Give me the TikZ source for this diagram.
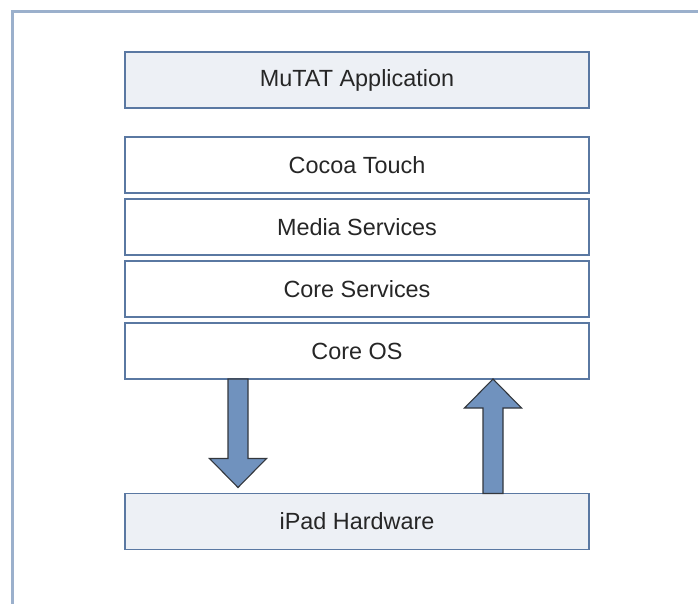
\documentclass[tikz,border=0pt]{standalone}
\usepackage{fontspec}
\setmainfont{Liberation Sans}
\usepackage{xcolor}
\usepackage{tikz}
\usetikzlibrary{calc,positioning}
\definecolor{framec}{HTML}{9BB0CC}
\definecolor{boxline}{HTML}{5A78A2}
\definecolor{boxfill}{HTML}{EDF0F5}
\definecolor{arrfill}{HTML}{7092BE}
\definecolor{arrline}{HTML}{33373D}
\definecolor{txt}{HTML}{262626}
\newcommand{\blockarrow}[3]{\filldraw[fill=arrfill,draw=arrline,line width=1.1pt,line join=miter] ($(#1)+(-10,0)$) -- ($(#2)+(-10,-29*#3)$) -- ($(#2)+(-28.5,-29*#3)$) -- (#2) -- ($(#2)+(28.5,-29*#3)$) -- ($(#2)+(10,-29*#3)$) -- ($(#1)+(10,0)$) -- cycle;}

\begin{document}
\begin{tikzpicture}[x=1pt,y=-1pt,
  layer/.style={draw=boxline,line width=1.3pt,fill=white,minimum width=464pt,minimum height=56pt,inner sep=0pt,outer sep=0pt,text=txt,font=\fontsize{23.4}{27}\selectfont},
  shaded/.style={layer,fill=boxfill},
  node distance=6pt]
\useasboundingbox (0,0) rectangle (698,604);
\draw[framec,line width=3pt] (12,620) -- (12,12) -- (720,12);
\node[shaded] (app) at (357,80) {MuTAT Application};
\node[layer] (cocoa) at (357,165) {Cocoa Touch};
\node[layer,below=of cocoa] (media) {Media Services};
\node[layer,below=of media] (coresrv) {Core Services};
\node[layer,below=of coresrv] (coreos) {Core OS};
\node[shaded] (hw) at (357,521.5) {iPad Hardware};
% arrows between Core OS and the hardware
\coordinate (dntail) at ($(coreos.south)+(-119,0)$);
\coordinate (dntip) at ($(hw.north)+(-119,-6)$);
\coordinate (uptail) at ($(hw.north)+(136,0)$);
\coordinate (uptip) at ($(coreos.south)+(136,0)$);
\blockarrow{dntail}{dntip}{1}
\blockarrow{uptail}{uptip}{-1}
\end{tikzpicture}
\end{document}
